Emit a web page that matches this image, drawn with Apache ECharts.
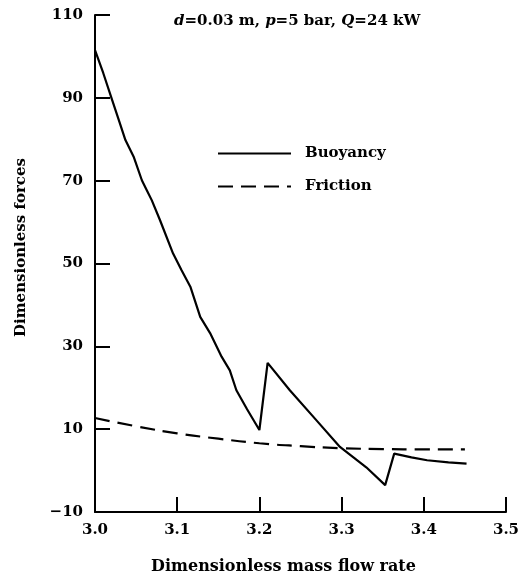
<!DOCTYPE html>
<html>
<head>
<meta charset="utf-8">
<script src="https://cdn.jsdelivr.net/npm/echarts@6/dist/echarts.min.js"></script>
<style>
html,body{margin:0;padding:0;background:#fff;}
#chart{width:524px;height:575px;}
</style>
</head>
<body>
<div id="chart"></div>
<script>
// Buoyancy curve (x, y)
const buoyancyX = [3.000, 3.010, 3.020, 3.030, 3.037, 3.047, 3.057, 3.063, 3.069, 3.079, 3.095, 3.105, 3.116, 3.128, 3.140, 3.154, 3.164, 3.172, 3.185, 3.200, 3.210, 3.237, 3.270, 3.298, 3.330, 3.353, 3.364, 3.385, 3.404, 3.430, 3.452];
const buoyancyY = [101.5, 96.0, 90.0, 84.0, 79.8, 75.8, 70.1, 67.7, 65.3, 60.5, 52.4, 48.5, 44.4, 37.1, 33.2, 27.5, 24.2, 19.4, 14.8, 9.8, 26.0, 19.4, 12.0, 5.7, 0.8, -3.5, 4.1, 3.2, 2.5, 2.0, 1.7];
// Friction curve (x, y)
const frictionX = [3.00, 3.05, 3.10, 3.15, 3.20, 3.25, 3.30, 3.35, 3.40, 3.45];
const frictionY = [12.7, 10.7, 9.0, 7.7, 6.6, 5.9, 5.4, 5.2, 5.1, 5.1];
// Axis ticks
const xTicks = [3.0, 3.1, 3.2, 3.3, 3.4, 3.5];
const yTicks = [-10, 10, 30, 50, 70, 90, 110];

const serif = '"DejaVu Serif", "Liberation Serif", serif';
const zip = (xs, ys) => xs.map((x, i) => [x, ys[i]]);

const chart = echarts.init(document.getElementById('chart'));
chart.setOption({
  animation: false,
  backgroundColor: '#fff',
  title: {
    left: 169, top: 9,
    text: '{i|d}{n|=0.03 m, }{i|p}{n|=5 bar, }{i|Q}{n|=24 kW}',
    textStyle: {
      rich: {
        i: {fontFamily: serif, fontStyle: 'italic', fontWeight: 'bold', fontSize: 15, color: '#000'},
        n: {fontFamily: serif, fontWeight: 'bold', fontSize: 15, color: '#000'}
      }
    }
  },
  legend: {
    orient: 'vertical',
    left: 217, top: 146, padding: 0,
    itemWidth: 73, itemHeight: 18, itemGap: 18,
    itemStyle: {opacity: 0},
    textStyle: {fontFamily: serif, fontWeight: 'bold', fontSize: 15, color: '#000', padding: [0,0,0,9]},
    data: ['Buoyancy', 'Friction']
  },
  grid: {left: 95, right: 18, top: 15, bottom: 63, outerBoundsMode: 'none', containLabel: false},
  xAxis: {
    type: 'value', min: xTicks[0], max: xTicks[xTicks.length - 1], interval: 0.1,
    name: 'Dimensionless mass flow rate', nameLocation: 'middle', nameGap: 47,
    nameTextStyle: {fontFamily: serif, fontWeight: 'bold', fontSize: 16, color: '#000', padding: [0, 34, 0, 0]},
    axisLine: {onZero: false, lineStyle: {color: '#000', width: 2}},
    axisTick: {inside: true, length: 15, lineStyle: {color: '#000', width: 2}},
    axisLabel: {margin: 11, fontFamily: serif, fontWeight: 'bold', fontSize: 15, color: '#000',
      formatter: v => v.toFixed(1)},
    splitLine: {show: false}
  },
  yAxis: {
    type: 'value', min: yTicks[0], max: yTicks[yTicks.length - 1], interval: 20,
    name: 'Dimensionless forces', nameLocation: 'middle', nameGap: 66,
    nameTextStyle: {fontFamily: serif, fontWeight: 'bold', fontSize: 15, color: '#000', padding: [0, 0, 0, 32]},
    axisLine: {onZero: false, lineStyle: {color: '#000', width: 2}},
    axisTick: {inside: true, length: 15, lineStyle: {color: '#000', width: 2}},
    axisLabel: {margin: 12, fontFamily: serif, fontWeight: 'bold', fontSize: 15, color: '#000',
      formatter: v => (v < 0 ? '\u2212' + Math.abs(v) : String(v))},
    splitLine: {show: false}
  },
  series: [
    {
      name: 'Buoyancy', type: 'line', data: zip(buoyancyX, buoyancyY),
      showSymbol: false, symbol: 'none',
      lineStyle: {color: '#000', width: 2.2, type: 'solid'},
      itemStyle: {color: '#000'}
    },
    {
      name: 'Friction', type: 'line', data: zip(frictionX, frictionY),
      showSymbol: false, symbol: 'none', smooth: true,
      lineStyle: {color: '#000', width: 2.2, type: [15, 8]},
      itemStyle: {color: '#000'}
    }
  ]
});
</script>
</body>
</html>
